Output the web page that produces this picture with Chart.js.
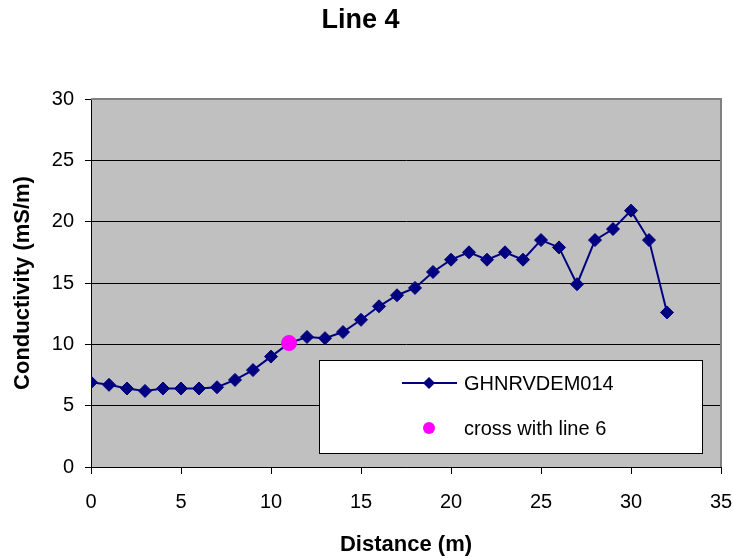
<!DOCTYPE html>
<html>
<head>
<meta charset="utf-8">
<script src="https://cdn.jsdelivr.net/npm/chart.js@4/dist/chart.umd.min.js"></script>
<style>
    html, body { margin: 0; padding: 0; background: #fff; }
    #wrap { width: 733px; height: 559px; }
</style>
</head>
<body>
<div id="wrap"><canvas id="line4" width="733" height="559"></canvas></div>
<script>
// Line 4 conductivity profile
const distance = [0, 1, 2, 3, 4, 5, 6, 7, 8, 9, 10, 11, 12, 13, 14, 15, 16,
    17, 18, 19, 20, 21, 22, 23, 24, 25, 26, 27, 28, 29, 30, 31, 32];
const conductivity = [6.9, 6.7, 6.4, 6.2, 6.4, 6.4, 6.4, 6.5, 7.1, 7.9, 9.0, 10.1, 10.6, 10.5, 11.0, 12.0, 13.1,
    14.0, 14.6, 15.9, 16.9, 17.5, 16.9, 17.5, 16.9, 18.5, 17.9, 14.9, 18.5, 19.4, 20.9, 18.5, 12.6];

const crossDistance = [11];
const crossConductivity = [10.1];

const xTicks = [0, 5, 10, 15, 20, 25, 30, 35];
const yTicks = [0, 5, 10, 15, 20, 25, 30];

const FONT = 'Arial, "Liberation Sans", sans-serif';

function toPoints(xs, ys) {
    return xs.map((x, i) => ({ x: x, y: ys[i] }));
}

// gray plot area behind the grid
const plotBackground = {
    id: 'plotBackground',
    beforeDraw(chart) {
        const { ctx, chartArea: a } = chart;
        ctx.save();
        ctx.fillStyle = '#C0C0C0';
        ctx.fillRect(a.left, a.top, a.right - a.left, a.bottom - a.top);
        ctx.restore();
    }
};

// gray frame on top/right, then the boxed legend inside the plot
const frameAndLegend = {
    id: 'frameAndLegend',
    afterDraw(chart) {
        const { ctx, chartArea: a } = chart;
        ctx.save();
        ctx.strokeStyle = '#808080';
        ctx.lineWidth = 2;
        ctx.beginPath();
        ctx.moveTo(a.left, a.top);
        ctx.lineTo(a.right, a.top);
        ctx.lineTo(a.right, a.bottom);
        ctx.stroke();

        const box = { left: 319.5, top: 360.5, right: 702.5, bottom: 453.5 };
        ctx.fillStyle = '#fff';
        ctx.fillRect(box.left, box.top, box.right - box.left, box.bottom - box.top);
        ctx.strokeStyle = '#000';
        ctx.lineWidth = 1;
        ctx.strokeRect(box.left, box.top, box.right - box.left, box.bottom - box.top);

        const rows = [383, 428];
        const markX = 429;
        ctx.font = '20px ' + FONT;
        ctx.textBaseline = 'middle';
        ctx.textAlign = 'left';
        chart.data.datasets.forEach((ds, i) => {
            const y = rows[i];
            if (ds.showLine) {
                ctx.strokeStyle = ds.borderColor;
                ctx.lineWidth = ds.borderWidth;
                ctx.beginPath();
                ctx.moveTo(402, y);
                ctx.lineTo(457, y);
                ctx.stroke();
            }
            ctx.fillStyle = ds.pointBackgroundColor;
            ctx.beginPath();
            if (ds.pointStyle === 'rectRot') {
                const r = 6;
                ctx.moveTo(markX - r, y);
                ctx.lineTo(markX, y - r);
                ctx.lineTo(markX + r, y);
                ctx.lineTo(markX, y + r);
                ctx.closePath();
            } else {
                ctx.arc(markX, y, 6, 0, Math.PI * 2);
            }
            ctx.fill();
            ctx.fillStyle = '#000';
            ctx.fillText(ds.label, 464, y + 1);
        });
        ctx.restore();
    }
};

new Chart(document.getElementById('line4'), {
    type: 'scatter',
    data: {
        datasets: [{
            label: 'GHNRVDEM014',
            data: toPoints(distance, conductivity),
            showLine: true,
            borderColor: '#000080',
            borderWidth: 2,
            pointStyle: 'rectRot',
            pointRadius: 6.5,
            pointBorderWidth: 1,
            pointBackgroundColor: '#000080',
            pointBorderColor: '#000080',
            order: 1
        }, {
            label: 'cross with line 6',
            data: toPoints(crossDistance, crossConductivity),
            showLine: false,
            pointStyle: 'circle',
            pointRadius: 8,
            pointBorderWidth: 0,
            pointBackgroundColor: '#FF00FF',
            pointBorderColor: '#FF00FF',
            order: 0
        }]
    },
    options: {
        responsive: false,
        animation: false,
        layout: { padding: { top: 0, right: 12, bottom: 0, left: 0 } },
        plugins: {
            legend: { display: false },
            tooltip: { enabled: false },
            title: {
                display: true,
                text: 'Line 4',
                color: '#000',
                font: { family: FONT, size: 27, weight: 'bold', lineHeight: 1.2 },
                padding: { top: 4, bottom: 62.6 }
            }
        },
        scales: {
            x: {
                type: 'linear',
                min: xTicks[0],
                max: xTicks[xTicks.length - 1],
                afterBuildTicks(scale) {
                    scale.ticks = xTicks.map(v => ({ value: v }));
                },
                afterFit(scale) {
                    scale.height = 92;
                    // let the end labels hang past the plot edge
                    scale.paddingLeft = 0;
                    scale.paddingRight = 0;
                },
                ticks: {
                    color: '#000',
                    font: { family: FONT, size: 20 },
                    padding: 16,
                    maxRotation: 0
                },
                grid: {
                    drawOnChartArea: false,
                    drawTicks: true,
                    tickLength: 7,
                    tickColor: '#000'
                },
                border: { color: '#000', width: 1 },
                title: {
                    display: true,
                    text: 'Distance (m)',
                    color: '#000',
                    font: { family: FONT, size: 22, weight: 'bold', lineHeight: 1.2 },
                    padding: { top: 0, bottom: 1 }
                }
            },
            y: {
                type: 'linear',
                min: yTicks[0],
                max: yTicks[yTicks.length - 1],
                afterBuildTicks(scale) {
                    scale.ticks = yTicks.map(v => ({ value: v }));
                },
                afterFit(scale) { scale.width = 91; },
                ticks: {
                    color: '#000',
                    font: { family: FONT, size: 20 },
                    padding: 11
                },
                grid: {
                    color: ctx => (ctx.tick && ctx.tick.value === 30) ? 'rgba(0,0,0,0)' : '#000',
                    lineWidth: 1,
                    drawTicks: true,
                    tickLength: 6,
                    tickColor: '#000'
                },
                border: { color: '#000', width: 1 },
                title: {
                    display: true,
                    text: 'Conductivity (mS/m)',
                    color: '#000',
                    font: { family: FONT, size: 22, weight: 'bold', lineHeight: 1.2 },
                    padding: { top: 10, bottom: 0 }
                }
            }
        }
    },
    plugins: [plotBackground, frameAndLegend]
});
</script>
</body>
</html>
